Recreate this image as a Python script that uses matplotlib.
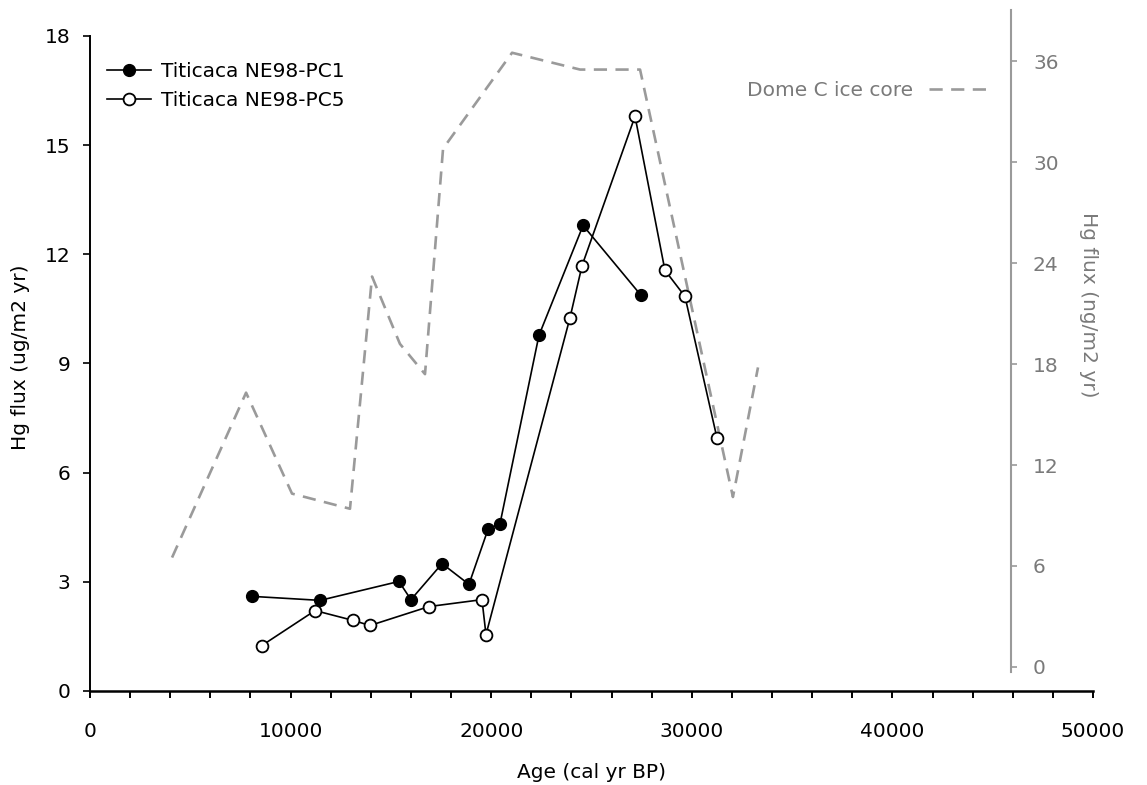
import matplotlib
matplotlib.use("Agg")
import matplotlib.pyplot as plt
from matplotlib.ticker import MultipleLocator

# Titicaca NE98-PC1 (filled), left axis
pc1_age = [8080, 11470, 15400, 16000, 17550, 18890, 19840, 20440, 22380, 24580, 27470]
pc1_flux = [2.60, 2.49, 3.01, 2.51, 3.50, 2.93, 4.44, 4.60, 9.77, 12.79, 10.87]

# Titicaca NE98-PC5 (open), left axis
pc5_age = [8570, 11220, 13110, 13960, 16900, 19540, 19740, 23930, 24530, 27170, 28660, 29660, 31260]
pc5_flux = [1.25, 2.21, 1.94, 1.80, 2.32, 2.51, 1.55, 10.26, 11.69, 15.79, 11.56, 10.84, 6.94]

# Dome C ice core, right axis
domec_age = [4090, 7780, 10070, 12960, 14060, 15450, 16700, 17600, 21040, 24430, 27420, 32050, 33300]
domec_flux = [6.5, 16.3, 10.3, 9.4, 23.2, 19.2, 17.4, 30.8, 36.5, 35.5, 35.5, 10.1, 17.8]

GREY = "#9a9a9a"
TXT_GREY = "#7a7a7a"
FS = 14.5

fig = plt.figure(figsize=(11.47, 7.85), dpi=100)
ax = fig.add_axes([90 / 1147, 94 / 785, 1003 / 1147, 681 / 785])
ax2 = ax.twinx()

ax2.plot(domec_age, domec_flux, color=GREY, lw=1.9, dashes=(5, 3.2),
         label="Dome C ice core")
ax.plot(pc1_age, pc1_flux, color="black", lw=1.2, marker="o", ms=8.5,
        mfc="black", mec="black", label="Titicaca NE98-PC1")
ax.plot(pc5_age, pc5_flux, color="black", lw=1.2, marker="o", ms=8.5,
        mfc="white", mec="black", mew=1.3, label="Titicaca NE98-PC5")
ax.set_zorder(ax2.get_zorder() + 1)
ax.patch.set_visible(False)

ax.set_xlim(0, 50000)
ax.set_ylim(0, 18.71)
ax2.set_ylim(-1.43, 39.04)

ax.xaxis.set_major_locator(MultipleLocator(10000))
ax.xaxis.set_minor_locator(MultipleLocator(2000))
ax.set_yticks([0, 3, 6, 9, 12, 15, 18])
ax2.set_yticks([0, 6, 12, 18, 24, 30, 36])

for s in ("top", "right"):
    ax.spines[s].set_visible(False)
for s in ("top", "left", "bottom"):
    ax2.spines[s].set_visible(False)
ax.spines["left"].set_bounds(0, 18)
ax.spines["left"].set_linewidth(1.4)
ax.spines["bottom"].set_linewidth(1.8)
ax2.spines["right"].set_position(("axes", 0.918))
ax2.spines["right"].set_bounds(-0.3, 39.04)
ax2.spines["right"].set_color(GREY)
ax2.spines["right"].set_linewidth(1.5)

ax.tick_params(axis="x", which="both", direction="out", length=5, width=1.4,
               labelsize=FS, pad=17)
ax.tick_params(axis="y", direction="out", length=5, width=1.2, labelsize=FS, pad=9)
ax2.tick_params(axis="y", direction="out", length=4, width=1.2, color=GREY,
                labelcolor=TXT_GREY, labelsize=FS, pad=12)

ax.set_xlabel("Age (cal yr BP)", fontsize=FS, labelpad=16)
ax.set_ylabel("Hg flux (ug/m2 yr)", fontsize=FS)
ax.yaxis.set_label_coords(-0.060, 0.49)
ax2.set_ylabel("Hg flux (ng/m2 yr)", fontsize=FS, color=TXT_GREY, rotation=-90,
               va="center")
ax2.yaxis.set_label_coords(0.996, 0.567)

ax.legend(loc="upper left", bbox_to_anchor=(0.017, 0.924), frameon=False,
          fontsize=FS, handlelength=2.2, handletextpad=0.5, labelspacing=0.5,
          borderpad=0, borderaxespad=0)
leg2 = ax2.legend(loc="upper right", bbox_to_anchor=(0.895, 0.896), frameon=False,
                  fontsize=FS, handlelength=2.9, handletextpad=0.8, markerfirst=False,
                  borderpad=0, borderaxespad=0)
for t in leg2.get_texts():
    t.set_color(TXT_GREY)

fig.savefig("out.png", dpi=100)
